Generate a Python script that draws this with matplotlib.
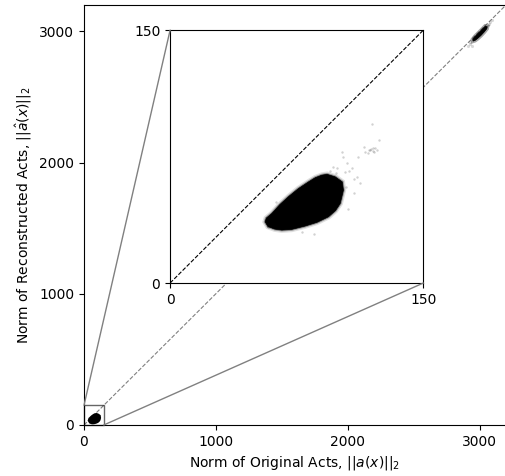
import numpy as np
import matplotlib
matplotlib.use("Agg")
import matplotlib.pyplot as plt
from matplotlib.patches import ConnectionPatch

# outline of the dense cluster of points (original norm, reconstructed norm)
blob_x = [56.3, 58.0, 62.0, 66.2, 72.0, 80.0, 87.0, 93.8, 98.0, 100.8, 102.7,
          102.0, 97.8, 93.0, 89.9, 86.0, 82.0, 76.0, 70.1, 65.0, 60.3, 57.0]
blob_y = [36.3, 33.5, 32.0, 31.4, 31.8, 33.8, 36.0, 39.3, 43.0, 47.2, 55.1,
          60.0, 63.0, 64.5, 64.0, 62.5, 60.0, 56.0, 51.2, 46.5, 41.3, 38.5]

# sparse points around the cluster
halo_x = [102.7, 101.8, 96.8, 110.7, 108.7, 112.6, 114.6, 123.5, 111.6, 104.8,
          90.9, 115.6, 118.6, 122.5, 119.5, 120.0, 117.0, 121.0, 106.0, 107.5,
          99.0, 95.0, 104.0, 109.0, 63.0, 58.0, 85.0, 78.0, 105.5, 100.0,
          119.0, 120.5, 118.0, 121.5, 103.5, 98.5]
halo_y = [74.9, 77.8, 69.0, 63.0, 53.2, 59.1, 80.8, 84.8, 74.9, 71.0,
          63.0, 77.8, 78.8, 79.2, 94.2, 80.0, 77.0, 78.0, 66.5, 68.0,
          68.0, 66.5, 57.0, 62.0, 48.0, 33.0, 29.0, 30.5, 44.0, 52.0,
          79.5, 78.5, 79.0, 80.0, 66.0, 65.5]

# second cluster near the top right of the main axes
far_x = [2950, 2965, 2985, 3010, 3035, 3055, 3058, 3042, 3015, 2990, 2965, 2948]
far_y = [2925, 2930, 2945, 2968, 2995, 3020, 3035, 3038, 3010, 2985, 2960, 2938]
far_halo_x = [2915, 2930, 2940, 3070, 3080, 3095, 2925, 3065]
far_halo_y = [2885, 2905, 2890, 3055, 3070, 3085, 2915, 3045]

lim_main = 3200
lim_zoom = 150

fig = plt.figure(figsize=(5.06, 4.76), dpi=100)
ax = fig.add_axes([84 / 506, 51 / 476, 422 / 506, 420 / 476])

ax.plot([0, lim_main], [0, lim_main], ls="--", color="grey", lw=0.8, zorder=1)
ax.fill(blob_x, blob_y, color="black", lw=5, zorder=3)
ax.fill(far_x, far_y, color="black", lw=3, alpha=0.35, zorder=3)
ax.fill(far_x, far_y, color="black", lw=0.5, zorder=3)
ax.scatter(far_halo_x, far_halo_y, s=5, color="black", alpha=0.15, lw=0, zorder=3)
ax.set_xlim(0, lim_main)
ax.set_ylim(0, lim_main)
ax.set_xticks([0, 1000, 2000, 3000])
ax.set_yticks([0, 1000, 2000, 3000])
ax.set_xlabel(r"Norm of Original Acts, $||a(x)||_2$")
ax.set_ylabel(r"Norm of Reconstructed Acts, $||\hat{a}(x)||_2$")

axin = ax.inset_axes([0.204, 0.338, 0.6, 0.602])
axin.plot([0, lim_zoom], [0, lim_zoom], ls="--", color="black", lw=0.8)
axin.fill(blob_x, blob_y, color="black", lw=4, alpha=0.12)
axin.fill(blob_x, blob_y, color="black", lw=2, alpha=0.35)
axin.fill(blob_x, blob_y, color="black", lw=0.5)
axin.scatter(halo_x, halo_y, s=3, color="black", alpha=0.18, lw=0)
axin.set_xlim(0, lim_zoom)
axin.set_ylim(0, lim_zoom)
axin.set_xticks([0, lim_zoom])
axin.set_yticks([0, lim_zoom])

# zoom rectangle and the two connector lines
ax.indicate_inset([0, 0, lim_zoom, lim_zoom], edgecolor="black", alpha=0.6)
for corner in [(0, lim_zoom), (lim_zoom, 0)]:
    con = ConnectionPatch(xyA=corner, coordsA=ax.transData,
                          xyB=corner, coordsB=axin.transData,
                          color="0.5", lw=1.0, zorder=4)
    fig.add_artist(con)

fig.savefig("out.png", dpi=100)
